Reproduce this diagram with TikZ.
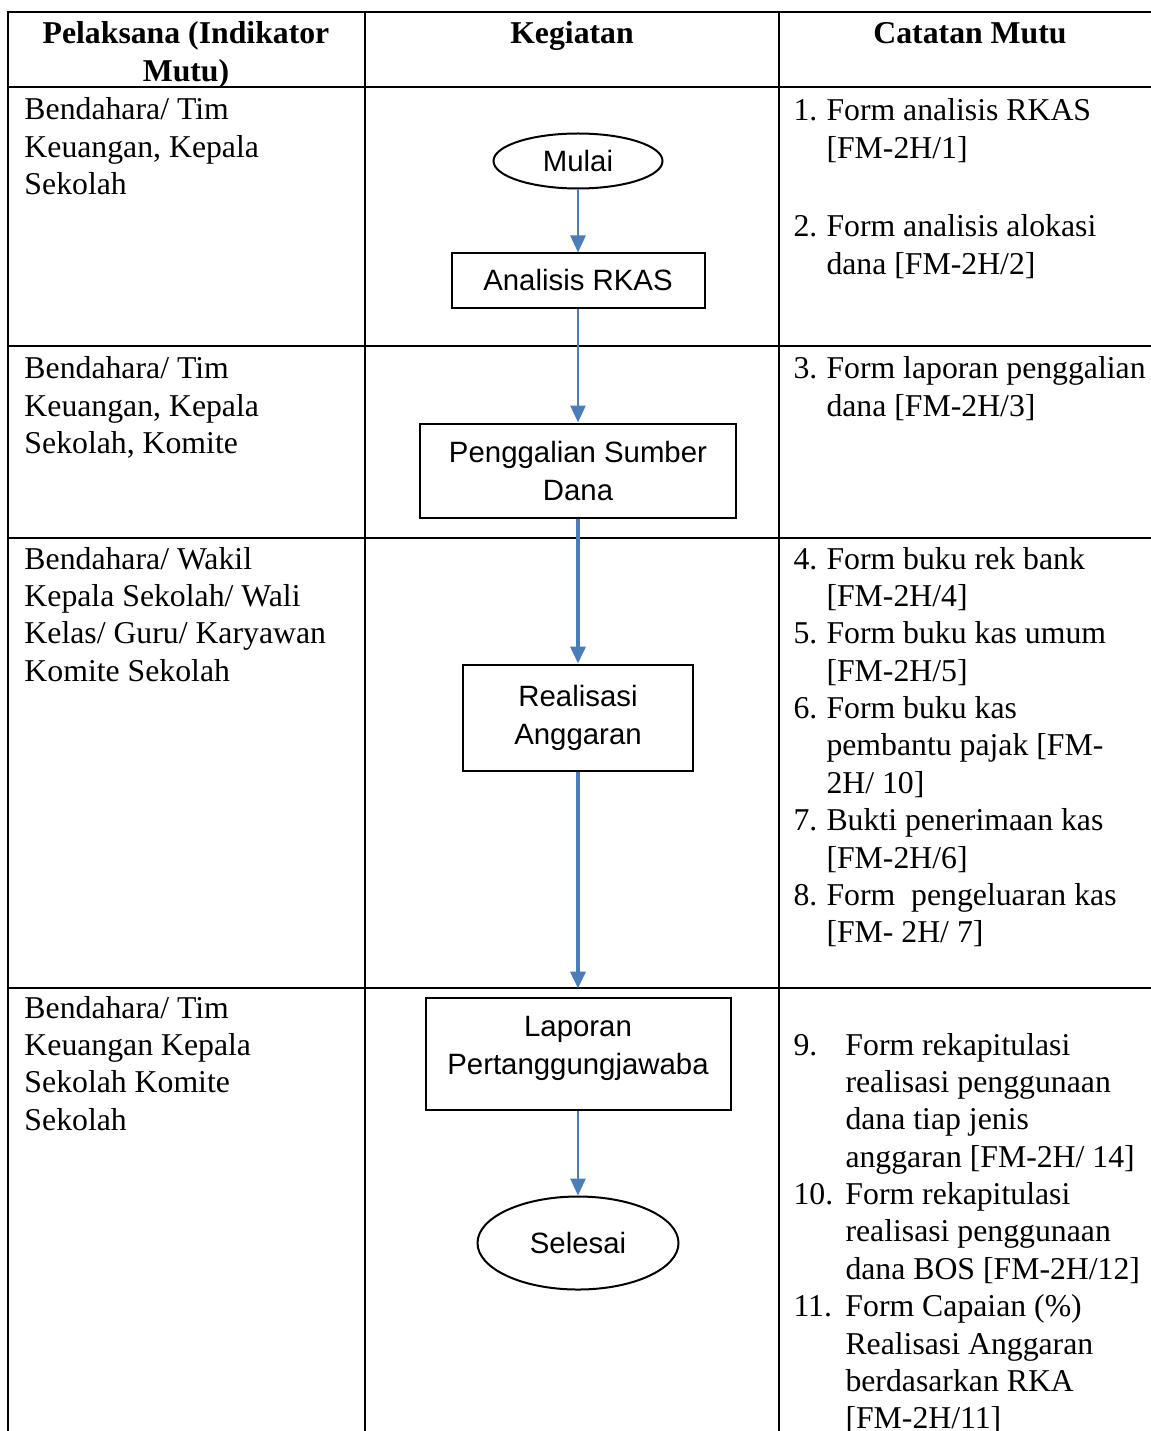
\documentclass[tikz,border=0pt]{standalone}
\usepackage{fontspec}
\setmainfont{Liberation Serif}
\newfontfamily\boxfont{Liberation Sans}
\usetikzlibrary{positioning,shapes.geometric,arrows.meta}
\definecolor{flowblue}{RGB}{74,126,187}
\newcommand{\celltext}[1]{\begin{tabular}[t]{@{}l@{}}#1\end{tabular}}
\newcommand{\formlist}[2]{\begin{tabular}[t]{@{}p{#1}@{}l@{}}#2\end{tabular}}
\begin{document}
\begin{tikzpicture}[x=0.4pt, y=-0.4pt,
    grid/.style={line width=1pt},
    cell/.style={anchor=base west, inner sep=0pt, font=\fontsize{12.7}{14.95}\selectfont},
    head/.style={anchor=base, inner sep=0pt, font=\fontsize{12.7}{14.95}\selectfont\bfseries},
    box/.style={draw, line width=0.8pt, inner sep=0pt, align=center, font=\boxfont\fontsize{11.75}{15.2}\selectfont},
    term/.style={box, ellipse},
    flow/.style={draw=flowblue, line width=1.1pt, -{Triangle[width=6pt,length=6.8pt]}}]
  \useasboundingbox (0,0) rectangle (1151,1431);
  % table
  \draw[grid] (8,1431) -- (8,12) -- (1151,12);
  \draw[grid] (365,12) -- (365,1431);
  \draw[grid] (779,12) -- (779,1431);
  \foreach \y in {87,346,538,988}
    \draw[grid] (8,\y) -- (1151,\y);
  % header
  \node[head] (hpel) at (186,44) {\begin{tabular}[t]{@{}c@{}}Pelaksana (Indikator\\Mutu)\end{tabular}};
  \node[head] (hkeg) at (572,44) {Kegiatan};
  \node[head] (hcat) at (970,44) {Catatan Mutu};
  % pelaksana
  \node[cell] (pel1) at (24,120) {\celltext{Bendahara/ Tim\\Keuangan, Kepala\\Sekolah}};
  \node[cell] (pel2) at (24,379) {\celltext{Bendahara/ Tim\\Keuangan, Kepala\\Sekolah, Komite}};
  \node[cell] (pel3) at (24,569) {\celltext{Bendahara/ Wakil\\Kepala Sekolah/ Wali\\Kelas/ Guru/ Karyawan\\Komite Sekolah}};
  \node[cell] (pel4) at (24,1018) {\celltext{Bendahara/ Tim\\Keuangan Kepala\\Sekolah Komite\\Sekolah}};
  % catatan mutu
  \node[cell] (cat1) at (793,121) {\formlist{13.2pt}{1. & Form analisis RKAS\\ & [FM-2H/1]\\[16.4pt]
    2. & Form analisis alokasi\\ & dana [FM-2H/2]}};
  \node[cell] (cat2) at (793,379) {\formlist{13.2pt}{3. & Form laporan penggalian\\ & dana [FM-2H/3]}};
  \node[cell] (cat3) at (793,569) {\formlist{13.2pt}{4. & Form buku rek bank\\ & [FM-2H/4]\\
    5. & Form buku kas umum\\ & [FM-2H/5]\\
    6. & Form buku kas\\ & pembantu pajak [FM-\\ & 2H/ 10]\\
    7. & Bukti penerimaan kas\\ & [FM-2H/6]\\
    8. & Form\ \ pengeluaran kas\\ & [FM- 2H/ 7]}};
  \node[cell] (cat4) at (793,1055) {\formlist{20.8pt}{9. & Form rekapitulasi\\ & realisasi penggunaan\\ & dana tiap jenis\\ & anggaran [FM-2H/ 14]\\
    10. & Form rekapitulasi\\ & realisasi penggunaan\\ & dana BOS [FM-2H/12]\\
    11. & Form Capaian (\%)\\ & Realisasi Anggaran\\ & berdasarkan RKA\\ & [FM-2H/11]}};
  % kegiatan
  \node[term, minimum width=67.6pt, minimum height=22pt] (mulai) at (578,161) {Mulai};
  \node[box, minimum width=101.2pt, minimum height=21.6pt, below=25.2pt of mulai] (rkas) {Analisis RKAS};
  \node[box, minimum width=126.4pt, minimum height=37.6pt, below=45.6pt of rkas] (gali) {Penggalian Sumber\\Dana};
  \node[box, minimum width=92pt, minimum height=42.4pt, below=58pt of gali] (real) {Realisasi\\Anggaran};
  \node[box, minimum width=122pt, minimum height=44.8pt, below=90pt of real] (lapor)
    {\raisebox{2.4pt}[\height][\depth]{\begin{tabular}{@{}c@{}}Laporan\\Pertanggungjawaba\end{tabular}}};
  \node[term, minimum width=80.4pt, minimum height=37.2pt, below=34pt of lapor] (selesai) {Selesai};
  \draw[flow] (mulai) -- (rkas);
  \draw[flow] (rkas) -- (gali);
  \draw[flow, line width=1.5pt] (gali) -- (real);
  \draw[flow, line width=1.5pt, shorten >=3.2pt] (real) -- (lapor);
  \draw[flow] (lapor) -- (selesai);
\end{tikzpicture}
\end{document}
